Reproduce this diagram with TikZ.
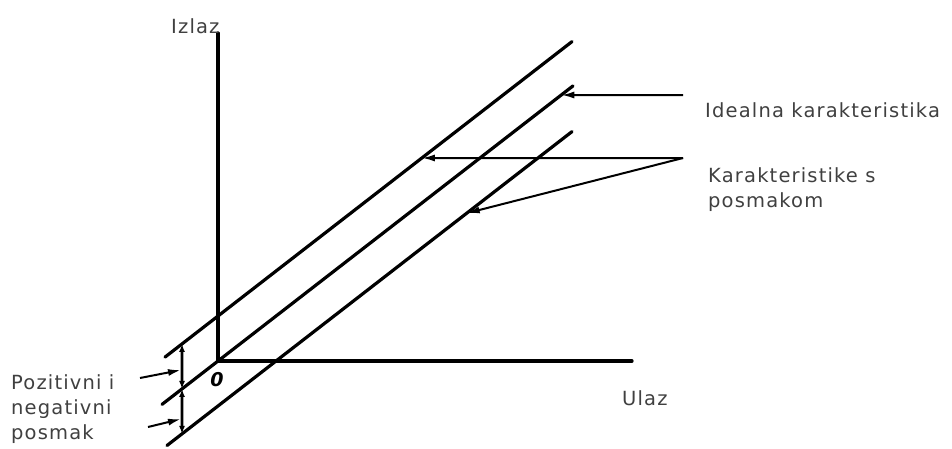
\documentclass[tikz,border=0pt]{standalone}
\usepackage{fontspec}
\setmainfont{DejaVu Sans}[LetterSpace=6]
\newfontfamily\zerofont{DejaVu Sans}
\usetikzlibrary{arrows.meta,calc}
\begin{document}
\begin{tikzpicture}[x=1pt,y=-1pt,
  lab/.style={inner sep=0pt,anchor=base west,text=black!75,font=\fontsize{19.5}{22}\selectfont},
  thick line/.style={line width=3.2pt,line cap=round},
  ptr/.style={line width=2pt,-{Latex[length=13pt,width=7pt]}},
  shiftarr/.style={line width=2.6pt,{Latex[length=8pt,width=6pt]}-{Latex[length=8pt,width=6pt]}}]
\useasboundingbox (0,0) rectangle (952,448);
% axes
\coordinate (O) at (218,361);
\coordinate (Ytop) at (218,33);
\coordinate (Xend) at (632,361);
\draw[thick line] (Ytop) -- (O) -- (Xend);
% characteristics (slope 0.775)
\coordinate (A1) at ($(O)+(-53,41.1)-(0,45)$);
\coordinate (A2) at ($(O)+(354,-274.4)-(0,45)$);
\coordinate (B1) at ($(O)+(-56,43.4)$);
\coordinate (B2) at ($(O)+(355,-275.1)$);
\coordinate (C1) at ($(O)+(-51,39.5)+(0,45)$);
\coordinate (C2) at ($(O)+(354,-274.4)+(0,45)$);
\draw[thick line] (A1) -- (A2);
\draw[thick line] (B1) -- (B2);
\draw[thick line] (C1) -- (C2);
% labels
\node[lab] (izlaz) at (171,33) {Izlaz};
\node[lab] (ulaz) at (622,405) {Ulaz};
\node[lab] (ideal) at (705,117) {Idealna karakteristika};
\node[lab] (kar1) at (708,182) {Karakteristike s};
\node[lab] (kar2) at (708,207) {posmakom};
\node[lab] (poz1) at (11,389) {Pozitivni i};
\node[lab] (poz2) at (11,414) {negativni};
\node[lab] (poz3) at (11,439) {posmak};
\node[inner sep=0pt,font=\zerofont\bfseries\itshape\fontsize{19}{20}\selectfont] (zero) at (217,380) {0};
% pointer arrows from labels
\coordinate (Ist) at (683,95);
\coordinate (Kst) at (683,158);
\draw[ptr] (Ist) -- (intersection of Ist--{$(Ist)+(-10,0)$} and B1--B2);
\draw[ptr] (Kst) -- (intersection of Kst--{$(Kst)+(-10,0)$} and A1--A2);
\draw[ptr] (Kst) -- ($(C1)!0.74!(C2)$);
% shift arrows
\coordinate (Vx) at (182,0);
\coordinate (VA) at (intersection of Vx--{$(Vx)+(0,10)$} and A1--A2);
\coordinate (VB) at (intersection of Vx--{$(Vx)+(0,10)$} and B1--B2);
\coordinate (VC) at (intersection of Vx--{$(Vx)+(0,10)$} and C1--C2);
\draw[shiftarr] (VA) -- (VB);
\draw[shiftarr] (VB) -- (VC);
\coordinate (P1) at (140,378);
\coordinate (P2) at (148,427);
\draw[ptr] (P1) -- (181,370);
\draw[ptr] (P2) -- (181,419);
\end{tikzpicture}
\end{document}
